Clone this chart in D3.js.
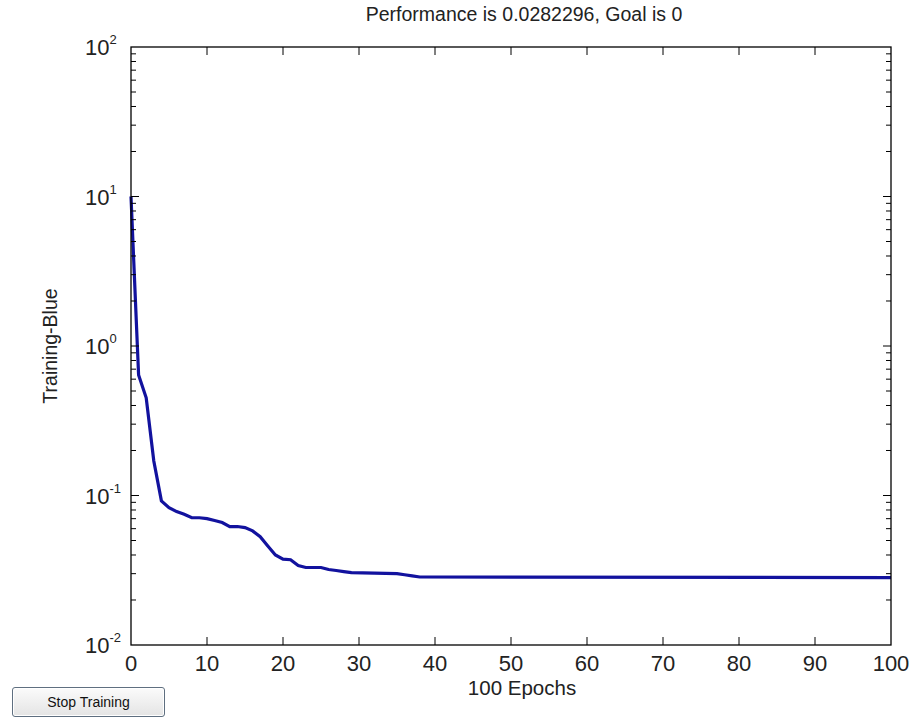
<!DOCTYPE html>
<html>
<head>
<meta charset="utf-8">
<script src="https://cdn.jsdelivr.net/npm/d3@7"></script>
<style>
  body { margin: 0; background: #fff; }
  #stop {
    position: absolute; left: 12px; top: 687px; width: 151px; height: 28px;
    border: 1px solid #5f6f80; border-radius: 3px;
    background: linear-gradient(#fbfbfb, #e4e4e4);
    box-shadow: inset 0 0 0 1px #fff;
    font: 14px "Liberation Sans", Arial, sans-serif; color: #111;
    text-align: center; line-height: 28px;
  }
</style>
</head>
<body>
<svg id="chart" width="912" height="720"></svg>
<div id="stop">Stop Training</div>
<script>
// training performance
const epochs = [0, 1, 2, 3, 4, 5, 6, 7, 8, 9, 10, 11, 12, 13, 14, 15, 16, 17, 18, 19, 20, 21, 22, 23, 25, 26, 27, 28, 29, 35, 36, 37, 38, 100];
const perf   = [10, 0.64, 0.45, 0.17, 0.092, 0.083, 0.078, 0.075, 0.071, 0.071, 0.070, 0.068, 0.066, 0.062, 0.062, 0.061, 0.058, 0.053, 0.046, 0.040, 0.0375, 0.0372, 0.034, 0.033, 0.033, 0.032, 0.0315, 0.031, 0.0305, 0.0300, 0.0295, 0.029, 0.0285, 0.0282296];
const xTicks = [0, 10, 20, 30, 40, 50, 60, 70, 80, 90, 100];
const yExps = [-2, -1, 0, 1, 2];

const title = "Performance is 0.0282296, Goal is 0";
const xLabel = "100 Epochs";
const yLabel = "Training-Blue";

const pLeft = 131, pRight = 891, pTop = 47, pBottom = 645;
const font = "'Liberation Sans', Arial, sans-serif";

const svg = d3.select("#chart");

const x = d3.scaleLinear().domain([0, 100]).range([pLeft, pRight]);
const y = d3.scaleLog().domain([0.01, 100]).range([pBottom, pTop]);

// minor log ticks
const minor = [];
yExps.slice(0, -1).forEach(e => {
  for (let k = 2; k <= 9; k++) minor.push(k * Math.pow(10, e));
});

const g = svg.append("g");

// curve
const line = d3.line().x((d, i) => x(epochs[i])).y(d => y(d));
g.append("path")
  .datum(perf)
  .attr("d", line)
  .attr("fill", "none")
  .attr("stroke", "#12129e")
  .attr("stroke-width", 3.2);

// frame
g.append("rect")
  .attr("x", pLeft).attr("y", pTop)
  .attr("width", pRight - pLeft).attr("height", pBottom - pTop)
  .attr("fill", "none").attr("stroke", "#000").attr("stroke-width", 1.3);

// x ticks (bottom and top, inward)
g.selectAll(".xt").data(xTicks.slice(1, -1)).join("path")
  .attr("d", d => `M${x(d)},${pBottom}v-8M${x(d)},${pTop}v8`)
  .attr("stroke", "#000");

// y ticks (left and right, inward)
g.selectAll(".ymaj").data(yExps.slice(1, -1)).join("path")
  .attr("d", d => `M${pLeft},${y(Math.pow(10, d))}h8M${pRight},${y(Math.pow(10, d))}h-8`)
  .attr("stroke", "#000");
g.selectAll(".ymin").data(minor).join("path")
  .attr("d", d => `M${pLeft},${y(d)}h5M${pRight},${y(d)}h-5`)
  .attr("stroke", "#000");

// x tick labels
g.selectAll(".xl").data(xTicks).join("text")
  .attr("x", d => x(d)).attr("y", 671)
  .attr("text-anchor", "middle")
  .attr("font-family", font).attr("font-size", 22)
  .attr("fill", "#222")
  .text(d => d);

// y tick labels: 10 with superscript exponent
const yl = g.selectAll(".yl").data(yExps).join("text")
  .attr("x", 85).attr("y", d => y(Math.pow(10, d)) + 8)
  .attr("font-family", font).attr("fill", "#222");
yl.each(function(d) {
  const t = d3.select(this);
  t.append("tspan").attr("font-size", 22).text("10");
  t.append("tspan").attr("font-size", 13).attr("dy", -11).text(d);
});

// title and axis labels
svg.append("text")
  .attr("x", 524).attr("y", 21)
  .attr("text-anchor", "middle")
  .attr("font-family", font).attr("font-size", 19.5).attr("fill", "#222")
  .text(title);
svg.append("text")
  .attr("x", 522).attr("y", 695)
  .attr("text-anchor", "middle")
  .attr("font-family", font).attr("font-size", 20.5).attr("fill", "#222")
  .text(xLabel);
svg.append("text")
  .attr("transform", `translate(57,${(pTop + pBottom) / 2}) rotate(-90)`)
  .attr("text-anchor", "middle")
  .attr("font-family", font).attr("font-size", 19.5).attr("fill", "#222")
  .text(yLabel);
</script>
</body>
</html>
